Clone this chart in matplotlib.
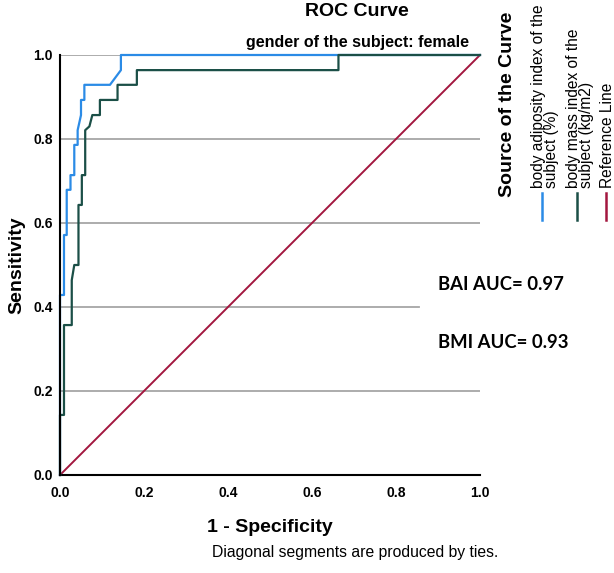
import matplotlib
matplotlib.use("Agg")
import matplotlib.pyplot as plt
from matplotlib.lines import Line2D

# ---- data ----
bai_fpr = [0, 0, 0.0095, 0.0095, 0.016, 0.016, 0.025, 0.025, 0.034, 0.034, 0.042, 0.042,
           0.05, 0.05, 0.058, 0.058, 0.119, 0.145, 0.145, 1.0]
bai_tpr = [0, 0.4286, 0.4286, 0.5714, 0.5714, 0.679, 0.679, 0.714, 0.714, 0.786, 0.786, 0.821,
           0.857, 0.893, 0.893, 0.929, 0.929, 0.964, 1.0, 1.0]
bmi_fpr = [0, 0, 0.0095, 0.0095, 0.028, 0.028, 0.034, 0.044, 0.044, 0.052, 0.052, 0.06, 0.06,
           0.07, 0.077, 0.095, 0.095, 0.137, 0.137, 0.183, 0.183, 0.663, 0.663, 1.0]
bmi_tpr = [0, 0.143, 0.143, 0.357, 0.357, 0.464, 0.5, 0.5, 0.643, 0.643, 0.714, 0.714, 0.821,
           0.83, 0.857, 0.857, 0.893, 0.893, 0.929, 0.929, 0.964, 0.964, 1.0, 1.0]
ref_x = [0, 1]
ref_y = [0, 1]
ticks = [0.0, 0.2, 0.4, 0.6, 0.8, 1.0]
tick_labels = ["0.0", "0.2", "0.4", "0.6", "0.8", "1.0"]
grid_levels = [0.2, 0.4, 0.6, 0.8, 1.0]
legend_labels = ["body adiposity index of the\nsubject (%)",
                 "body mass index of the\nsubject (kg/m2)",
                 "Reference Line"]
auc_texts = ["BAI AUC= 0.97", "BMI AUC= 0.93"]

c_bai = "#2b8be6"
c_bmi = "#1b4f47"
c_ref = "#a3173f"

plt.rcParams['font.family'] = ['Liberation Sans', 'DejaVu Sans']

fig = plt.figure(figsize=(6.14, 5.73), dpi=100)
ax = fig.add_axes([60/614, 1-475/573, 420/614, 420/573])
ax.set_xlim(0, 1)
ax.set_ylim(0, 1)

for g in grid_levels:
    xmax = 0.855 if g == 0.4 else 1.0
    ax.axhline(g, xmin=0, xmax=xmax, color="#a6a6a6", lw=1.3, zorder=1)

ax.plot(bai_fpr, bai_tpr, color=c_bai, lw=1.6, zorder=3, clip_on=False)
ax.plot(bmi_fpr, bmi_tpr, color=c_bmi, lw=1.6, zorder=4, clip_on=False)
ax.plot(ref_x, ref_y, color=c_ref, lw=1.4, zorder=2, clip_on=False)

for s in ["top", "right"]:
    ax.spines[s].set_visible(False)
for s in ["left", "bottom"]:
    ax.spines[s].set_color("black")
    ax.spines[s].set_linewidth(1.5)
ax.spines["left"].set_zorder(5)

ax.set_xticks(ticks)
ax.set_xticklabels(tick_labels, fontsize=10, fontweight="bold")
ax.set_yticks(ticks)
ax.set_yticklabels(tick_labels, fontsize=10, fontweight="bold")
ax.tick_params(length=0, pad=5)
ax.tick_params(axis="x", pad=8)

fig.text(270/614, 1-527/573, "1 - Specificity", fontsize=14, fontweight="bold",
         ha="center", va="center")
fig.text(17/614, 1-265/573, "Sensitivity", fontsize=14, fontweight="bold",
         ha="center", va="center", rotation=90)
fig.text(357/614, 1-11/573, "ROC Curve", fontsize=14, fontweight="bold",
         ha="center", va="center")
fig.text(357/614, 1-43/573, "gender of the subject: female", fontsize=11.5,
         fontweight="bold", ha="center", va="center")
fig.text(355/614, 1-552/573, "Diagonal segments are produced by ties.", fontsize=11.3,
         ha="center", va="center")

for i, t in enumerate(auc_texts):
    fig.text(438/614, 1-(285 + 57*i)/573, t, fontsize=13.3, fontweight="bold",
             family=["Lato", "DejaVu Sans"], ha="left", va="center")

# legend (rotated)
fig.text(507/614, 1-197/573, "Source of the Curve", fontsize=14, fontweight="bold",
         rotation=90, rotation_mode="anchor", ha="left", va="center")
text_x = [545, 580, 607]
line_x = [542, 577, 606]
leg_cols = [c_bai, c_bmi, c_ref]
for i, (lab, col) in enumerate(zip(legend_labels, leg_cols)):
    fig.text(text_x[i]/614, 1-188/573, lab, fontsize=11.2, rotation=90,
             rotation_mode="anchor", ha="left", va="center", linespacing=0.9)
    lx = line_x[i] / 614
    fig.add_artist(Line2D([lx, lx], [1-193/573, 1-220/573], color=col, lw=1.8,
                          transform=fig.transFigure))

fig.savefig("out.png", dpi=100, facecolor="white")
